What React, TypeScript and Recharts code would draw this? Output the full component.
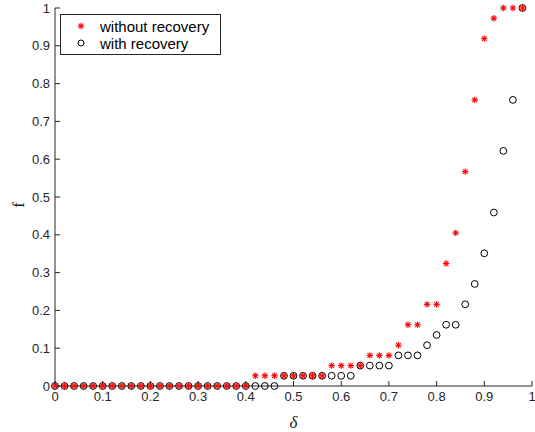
import React from 'react';
import { ScatterChart, Scatter, XAxis, YAxis } from 'recharts';

const deltas = [
  0, 0.02, 0.04, 0.06, 0.08, 0.1, 0.12, 0.14, 0.16, 0.18,
  0.2, 0.22, 0.24, 0.26, 0.28, 0.3, 0.32, 0.34, 0.36, 0.38,
  0.4, 0.42, 0.44, 0.46, 0.48, 0.5, 0.52, 0.54, 0.56, 0.58,
  0.6, 0.62, 0.64, 0.66, 0.68, 0.7, 0.72, 0.74, 0.76, 0.78,
  0.8, 0.82, 0.84, 0.86, 0.88, 0.9, 0.92, 0.94, 0.96, 0.98,
];

const withoutRecovery = [
  0, 0, 0, 0, 0, 0, 0, 0, 0, 0,
  0, 0, 0, 0, 0, 0, 0, 0, 0, 0,
  0, 0.027, 0.027, 0.027, 0.027, 0.027, 0.027, 0.027, 0.027, 0.054,
  0.054, 0.054, 0.054, 0.081, 0.081, 0.081, 0.108, 0.162, 0.162, 0.216,
  0.216, 0.324, 0.405, 0.567, 0.757, 0.919, 0.973, 1, 1, 1,
];

const withRecovery = [
  0, 0, 0, 0, 0, 0, 0, 0, 0, 0,
  0, 0, 0, 0, 0, 0, 0, 0, 0, 0,
  0, 0, 0, 0, 0.027, 0.027, 0.027, 0.027, 0.027, 0.027,
  0.027, 0.027, 0.054, 0.054, 0.054, 0.054, 0.081, 0.081, 0.081, 0.108,
  0.135, 0.162, 0.162, 0.216, 0.27, 0.351, 0.459, 0.622, 0.757, 1,
];

const xTicks = [0, 0.1, 0.2, 0.3, 0.4, 0.5, 0.6, 0.7, 0.8, 0.9, 1];
const yTicks = [0, 0.1, 0.2, 0.3, 0.4, 0.5, 0.6, 0.7, 0.8, 0.9, 1];

const seriesNames = ['without recovery', 'with recovery'];

const withoutData = deltas.map((d, i) => ({ delta: d, f: withoutRecovery[i] }));
const withData = deltas.map((d, i) => ({ delta: d, f: withRecovery[i] }));

const AXIS = '#262626';
const FONT = '"Liberation Sans", Arial, Helvetica, sans-serif';
const SERIF = '"Liberation Serif", "Times New Roman", serif';

const Asterisk = (props: any) => {
  const { cx, cy } = props;
  const r = 3.2;
  const d = r * 0.72;
  return (
    <g stroke="#ff0000" strokeWidth={1.1}>
      <line x1={cx - r} y1={cy} x2={cx + r} y2={cy} />
      <line x1={cx} y1={cy - r} x2={cx} y2={cy + r} />
      <line x1={cx - d} y1={cy - d} x2={cx + d} y2={cy + d} />
      <line x1={cx - d} y1={cy + d} x2={cx + d} y2={cy - d} />
    </g>
  );
};

const Ring = (props: any) => {
  const { cx, cy, r = 3.4 } = props;
  return <circle cx={cx} cy={cy} r={r} fill="none" stroke="#000" strokeWidth={1} />;
};

const fmt = (v: number) => String(v);

export default function App() {
  return (
    <div style={{ position: 'absolute', left: 0, top: 0, width: 535, height: 432, background: '#fff' }}>
      <ScatterChart width={535} height={432} margin={{ top: 8, right: 3, left: 0, bottom: 0 }}>
        <XAxis
          dataKey="delta"
          type="number"
          domain={[0, 1]}
          ticks={xTicks}
          interval={0}
          tickFormatter={fmt}
          height={46}
          stroke={AXIS}
          tickSize={-5}
          tickMargin={11}
          tick={{ fill: AXIS, fontSize: 13, fontFamily: FONT }}
          label={{
            content: (p: any) => {
              const vb = p.viewBox;
              return (
                <text
                  x={vb.x + vb.width / 2}
                  y={vb.y + 42}
                  textAnchor="middle"
                  fontFamily={SERIF}
                  fontStyle="italic"
                  fontSize={17}
                  fill={AXIS}
                >
                  δ
                </text>
              );
            },
          }}
        />
        <XAxis
          xAxisId="top"
          orientation="top"
          type="number"
          domain={[0, 1]}
          ticks={xTicks}
          interval={0}
          height={0}
          stroke={AXIS}
          tickSize={-5}
          tick={false}
        />
        <YAxis
          dataKey="f"
          type="number"
          domain={[0, 1]}
          ticks={yTicks}
          interval={0}
          tickFormatter={fmt}
          width={55}
          stroke={AXIS}
          tickSize={-5}
          tickMargin={10}
          tick={{ fill: AXIS, fontSize: 13, fontFamily: FONT }}
          label={{
            content: (p: any) => {
              const vb = p.viewBox;
              const x = vb.x + 18;
              const y = vb.y + vb.height / 2 + 8;
              return (
                <text
                  x={x}
                  y={y}
                  transform={`rotate(-90 ${x} ${y})`}
                  textAnchor="middle"
                  dominantBaseline="central"
                  fontFamily={SERIF}
                  fontSize={17}
                  fill={AXIS}
                >
                  f
                </text>
              );
            },
          }}
        />
        <YAxis
          yAxisId="right"
          orientation="right"
          type="number"
          domain={[0, 1]}
          ticks={yTicks}
          interval={0}
          width={0}
          stroke={AXIS}
          tickSize={-5}
          tick={false}
        />
        <Scatter name={seriesNames[1]} data={withData} shape={<Ring />} isAnimationActive={false} />
        <Scatter name={seriesNames[0]} data={withoutData} shape={<Asterisk />} isAnimationActive={false} />
      </ScatterChart>
      <div
        style={{
          position: 'absolute',
          left: 60,
          top: 14,
          width: 161,
          height: 41,
          boxSizing: 'border-box',
          border: `1px solid ${AXIS}`,
          background: '#fff',
          fontFamily: FONT,
          fontSize: 15,
          color: '#000',
        }}
      >
        <svg width={159} height={39} style={{ position: 'absolute', left: 0, top: 0 }}>
          <Asterisk cx={20} cy={11} />
          <Ring cx={20} cy={28} r={3} />
        </svg>
        <div style={{ position: 'absolute', left: 39, top: 3, lineHeight: '18px', whiteSpace: 'nowrap' }}>
          {seriesNames[0]}
        </div>
        <div style={{ position: 'absolute', left: 39, top: 20, lineHeight: '18px', whiteSpace: 'nowrap' }}>
          {seriesNames[1]}
        </div>
      </div>
    </div>
  );
}
